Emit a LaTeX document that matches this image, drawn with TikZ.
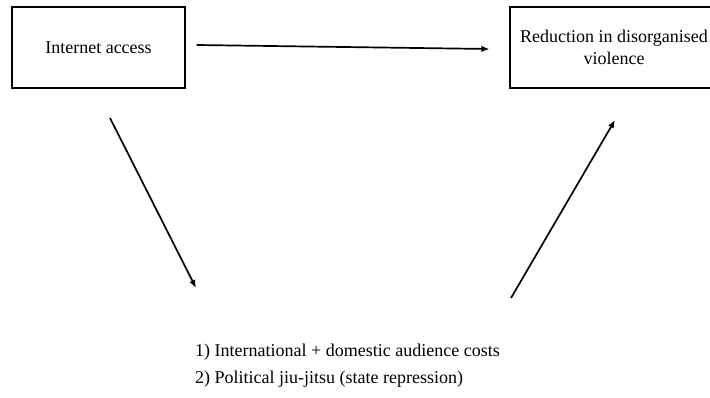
\documentclass[tikz,border=0pt]{standalone}
\usepackage{fontspec}
\setmainfont{Liberation Serif}
\usetikzlibrary{positioning, arrows.meta, calc}

\begin{document}
\begin{tikzpicture}[
  x=1pt, y=1pt,
  font=\fontsize{18}{22}\selectfont,
  align=center,
  % Estilos de cajas
  varbox/.style={draw, rectangle, line width=1.1pt, minimum height=81pt, inner sep=0pt},
  % Estilos de flechas
  line/.style={draw, -{Latex[length=8pt, width=6.5pt]}, line width=1.7pt}
]
  \clip (0,0) rectangle (710,398);

  % ==========================================
  % BOXES
  % ==========================================
  \node[varbox, minimum width=173pt] (internet) at (98.5,350.5) {Internet access};
  \node[varbox, minimum width=208pt] (violence) at (614,350.5) {Reduction in disorganised\\violence};

  % ==========================================
  % MECHANISMS
  % ==========================================
  \node[anchor=north west, align=left, font=\fontsize{18}{27}\selectfont, inner sep=0pt] (mech) at (195,54)
    {1) International + domestic audience costs\\
     2) Political jiu-jitsu (state repression)};

  % --- arrow end points ---
  \coordinate (d1) at (110,280);
  \coordinate (d2) at (196,110);
  \coordinate (u1) at (511,100);
  \coordinate (u2) at (615,278);

  % ==========================================
  % ARROWS
  % ==========================================
  \draw[line] ($(internet.east)+(11,2.5)$) -- ($(violence.west)+(-20,-1.5)$);
  \draw[line] (d1) -- (d2);
  \draw[line] (u1) -- (u2);

\end{tikzpicture}
\end{document}
